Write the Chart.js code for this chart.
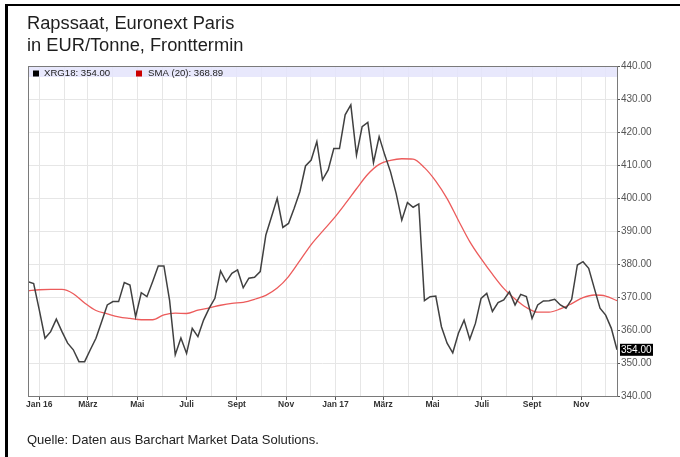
<!DOCTYPE html>
<html>
<head>
<meta charset="utf-8">
<script src="https://cdn.jsdelivr.net/npm/chart.js@4.4.1/dist/chart.umd.min.js"></script>
<style>
    body { margin: 0; background: #fff; font-family: "Liberation Sans", Arial, sans-serif; }
    #wrap { position: relative; width: 680px; height: 457px; overflow: hidden; }
    #frame { position: absolute; left: 5px; top: 4px; width: 700px; height: 480px; border-left: 3px solid #000; border-top: 2px solid #000; }
    #title { position: absolute; left: 27px; top: 12px; font-size: 18.3px; line-height: 21.5px; color: #1e1e1e; }
    #source { position: absolute; left: 27px; top: 433px; font-size: 13px; line-height: 14px; color: #222; }
    canvas { position: absolute; left: 0; top: 0; }
</style>
</head>
<body>
<div id="wrap">
    <div id="frame"></div>
    <canvas id="myChart" width="680" height="457"></canvas>
    <div id="title">Rapssaat, Euronext Paris<br>in EUR/Tonne, Fronttermin</div>
    <div id="source">Quelle: Daten aus Barchart Market Data Solutions.</div>
</div>
<script>
// weekly closes, first week = 2015-12-18
const startDate = '2015-12-18';
const xrg18 = [
    374.6, 374.1, 366.0, 357.5, 359.5, 363.3, 359.5, 356.0, 354.0, 350.4,
    350.4, 354.0, 357.5, 362.5, 367.6, 368.6, 368.6, 374.4, 373.6, 364.0,
    371.3, 370.1, 374.6, 379.4, 379.4, 369.0, 352.5, 357.6, 352.9, 360.5,
    358.0, 363.0, 366.6, 369.6, 377.9, 374.6, 377.2, 378.2, 372.8, 375.7,
    376.0, 377.7, 388.8, 394.3, 399.9, 391.1, 392.3, 396.9, 401.9, 409.7,
    411.5, 417.1, 405.5, 408.5, 415.0, 415.0, 425.2, 428.2, 413.0, 421.6,
    422.9, 410.7, 418.6, 413.0, 408.0, 401.4, 393.3, 398.6, 397.2, 398.2,
    368.9, 370.1, 370.3, 361.0, 356.0, 353.1, 359.0, 363.0, 357.2, 362.0,
    369.6, 371.1, 365.6, 368.3, 369.1, 371.6, 367.6, 370.8, 370.1, 363.5,
    367.6, 368.8, 368.9, 369.3, 367.6, 366.6, 369.3, 379.7, 380.7, 378.7,
    372.6, 366.6, 364.5, 360.5, 354.0
];
// SMA (20) read every second week
const sma20 = [
    371.9, 372.2, 372.3, 372.3, 371.0, 368.2, 365.9, 364.9, 364.0, 363.5,
    363.1, 363.1, 364.6, 365.1, 365.0, 366.0, 366.7, 367.5, 368.1, 368.4,
    369.3, 370.5, 372.7, 376.2, 381.0, 385.9, 389.9, 393.8, 398.2, 402.8,
    407.2, 410.2, 411.4, 411.9, 411.8, 409.2, 405.1, 399.8, 393.2, 386.8,
    381.6, 376.9, 372.6, 369.4, 366.8, 365.4, 365.4, 366.4, 368.0, 369.8,
    370.6, 370.3, 368.89
];
const tickMonths = [
    '2016-01', '2016-02', '2016-03', '2016-04', '2016-05', '2016-06',
    '2016-07', '2016-08', '2016-09', '2016-10', '2016-11', '2016-12',
    '2017-01', '2017-02', '2017-03', '2017-04', '2017-05', '2017-06',
    '2017-07', '2017-08', '2017-09', '2017-10', '2017-11', '2017-12'
];
const tickLabels = [
    'Jan 16', '', 'März', '', 'Mai', '', 'Juli', '', 'Sept', '', 'Nov', '',
    'Jan 17', '', 'März', '', 'Mai', '', 'Juli', '', 'Sept', '', 'Nov', ''
];
const lastPrice = 354.00;
const lastSma = 368.89;

function dayOf(str) {
    let p = str.split('-').map(Number);
    return (Date.UTC(p[0], p[1] - 1, p[2] || 1) - Date.UTC(2016, 0, 1)) / 86400000;
}
const day0 = dayOf(startDate);
const monthDays = tickMonths.map(dayOf);

const bandPlugin = {
    id: 'band',
    beforeDatasetsDraw(chart) {
        let c = chart.ctx;
        let a = chart.chartArea;
        c.save();
        c.fillStyle = 'rgba(228,228,251,0.85)';
        c.fillRect(a.left, a.top, a.right - a.left, 11);
        c.font = '9.6px "Liberation Sans", Arial, sans-serif';
        c.textBaseline = 'middle';
        c.fillStyle = '#000';
        c.fillRect(a.left + 5, a.top + 4.5, 6, 6);
        c.fillStyle = '#cc0000';
        c.fillRect(a.left + 108, a.top + 4.5, 6, 6);
        c.fillStyle = '#222';
        c.fillText('XRG18: ' + lastPrice.toFixed(2), a.left + 16, a.top + 7.5);
        c.fillText('SMA (20): ' + lastSma.toFixed(2), a.left + 120, a.top + 7.5);
        c.restore();
    },
    afterDraw(chart) {
        let c = chart.ctx;
        let a = chart.chartArea;
        c.save();
        c.strokeStyle = '#7a7a7a';
        c.lineWidth = 1;
        c.strokeRect(a.left + 0.5, a.top + 0.5, a.right - a.left, a.bottom - a.top);
        let y = chart.scales.y.getPixelForValue(lastPrice);
        c.fillStyle = '#000';
        c.fillRect(a.right + 3, y - 6, 33, 12);
        c.fillStyle = '#fff';
        c.font = '10px "Liberation Sans", Arial, sans-serif';
        c.textBaseline = 'middle';
        c.fillText(lastPrice.toFixed(2), a.right + 4, y + 0.5);
        c.restore();
    }
};

const ctx = document.getElementById('myChart').getContext('2d');
const myChart = new Chart(ctx, {
    type: 'line',
    data: {
        datasets: [{
            label: 'XRG18',
            data: xrg18.map((v, i) => ({x: day0 + 7 * i, y: v})),
            borderColor: '#404040',
            borderWidth: 1.5,
            pointRadius: 0,
            tension: 0
        }, {
            label: 'SMA (20)',
            data: sma20.map((v, i) => ({x: day0 + 14 * i, y: v})),
            borderColor: '#ec5b5b',
            borderWidth: 1.3,
            pointRadius: 0,
            cubicInterpolationMode: 'monotone'
        }]
    },
    options: {
        responsive: false,
        animation: false,
        devicePixelRatio: 1,
        layout: { padding: { left: 28, top: 66, right: 0, bottom: 0 } },
        plugins: { legend: { display: false }, tooltip: { enabled: false } },
        scales: {
            x: {
                type: 'linear',
                min: day0,
                max: day0 + 7 * (xrg18.length - 1),
                afterBuildTicks: axis => { axis.ticks = monthDays.map(v => ({value: v})); },
                afterFit: scale => { scale.height = 61; },
                border: { color: '#7a7a7a' },
                grid: {
                    color: '#e6e6e6',
                    tickLength: 4,
                    tickColor: c => tickLabels[c.index] ? '#555' : 'rgba(0,0,0,0)'
                },
                ticks: {
                    autoSkip: false,
                    maxRotation: 0,
                    padding: 0,
                    color: '#333',
                    font: { family: '"Liberation Sans", Arial, sans-serif', size: 8.5, weight: 'bold' },
                    callback: (v, i) => tickLabels[i]
                }
            },
            y: {
                position: 'right',
                min: 340,
                max: 440,
                afterFit: scale => { scale.width = 63; },
                border: { color: '#7a7a7a' },
                grid: { color: '#e6e6e6', tickLength: 3, tickColor: '#555' },
                ticks: {
                    stepSize: 10,
                    padding: 1,
                    color: '#555',
                    font: { family: '"Liberation Sans", Arial, sans-serif', size: 10 },
                    callback: v => v.toFixed(2)
                }
            }
        }
    },
    plugins: [bandPlugin]
});
</script>
</body>
</html>
